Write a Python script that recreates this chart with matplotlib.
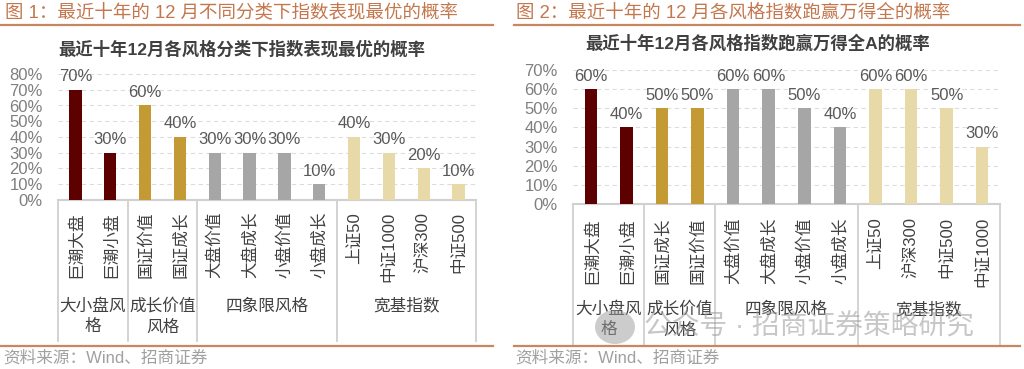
import matplotlib
matplotlib.use("Agg")
import matplotlib.pyplot as plt
from matplotlib.lines import Line2D
from matplotlib.patches import Ellipse
from matplotlib.transforms import blended_transform_factory

plt.rcParams['font.family'] = ['Liberation Sans', 'Noto Sans CJK SC']

# ---- data ----
left_cats = ['巨潮大盘', '巨潮小盘', '国证价值', '国证成长', '大盘价值', '大盘成长',
             '小盘价值', '小盘成长', '上证50', '中证1000', '沪深300', '中证500']
left_vals = [70, 30, 60, 40, 30, 30, 30, 10, 40, 30, 20, 10]

right_cats = ['巨潮大盘', '巨潮小盘', '国证成长', '国证价值', '大盘价值', '大盘成长',
              '小盘价值', '小盘成长', '上证50', '沪深300', '中证500', '中证1000']
right_vals = [60, 40, 50, 50, 60, 60, 50, 40, 60, 60, 50, 30]

groups = ['大小盘风\n格', '成长价值\n风格', '四象限风格', '宽基指数']
group_sizes = [2, 2, 4, 4]

left_header = '图 1：最近十年的 12 月不同分类下指数表现最优的概率'
right_header = '图 2：最近十年的 12 月各风格指数跑赢万得全的概率'
left_title = '最近十年12月各风格分类下指数表现最优的概率'
right_title = '最近十年12月各风格指数跑赢万得全A的概率'
source = '资料来源：Wind、招商证券'

group_colors = ['#5c0000', '#c49a35', '#a6a6a6', '#e8d9a8']
hdr_color = '#c4764c'

W, H = 1024, 369
fig = plt.figure(figsize=(W / 100, H / 100), dpi=100)


def fx(px):
    return px / W


def fy(py):
    return 1 - py / H


def panel(box, ymax, cats, vals, cat_top, grp_top, box_bottom):
    x0, y0, x1, y1 = box
    ax = fig.add_axes([fx(x0), fy(y0), fx(x1) - fx(x0), fy(y1) - fy(y0)])
    colors = []
    for c, n in zip(group_colors, group_sizes):
        colors += [c] * n
    xs = list(range(len(cats)))
    bars = ax.bar(xs, vals, width=0.35, color=colors, zorder=3)
    ax.bar_label(bars, labels=[f'{v}%' for v in vals], padding=4,
                 fontsize=12, color='#595959')
    ax.set_xlim(-0.5, len(cats) - 0.5)
    ax.set_ylim(0, ymax)
    ax.set_yticks(range(0, ymax + 1, 10))
    ax.set_yticklabels([f'{t}%' for t in range(0, ymax + 1, 10)])
    ax.tick_params(axis='y', length=0, pad=11, labelsize=12, labelcolor='#7f7f7f')
    ax.set_xticks([])
    for s in ['left', 'right', 'top']:
        ax.spines[s].set_visible(False)
    ax.spines['bottom'].set_color('#d0d0d0')
    ax.spines['bottom'].set_linewidth(1.5)
    ax.yaxis.grid(True, linestyle=(0, (4, 3)), color='#dcdcdc', linewidth=0.8)
    ax.set_axisbelow(True)

    tr = blended_transform_factory(ax.transData, fig.transFigure)
    for i, c in enumerate(cats):
        ax.text(i, fy(cat_top), c, transform=tr, rotation=90, ha='center',
                va='top', fontsize=12, color='#404040')
    edges = [-0.5]
    for n in group_sizes:
        edges.append(edges[-1] + n)
    for e in edges:
        ax.plot([e, e], [fy(y0), fy(box_bottom)], transform=tr, color='#d0d0d0',
                lw=1.3, clip_on=False)
    for g, a, b in zip(groups, edges[:-1], edges[1:]):
        ax.text((a + b) / 2, fy(grp_top), g, transform=tr, ha='center', va='top',
                fontsize=12, color='#404040', linespacing=1.45)
    return ax


panel((58, 200, 476, 74), 80, left_cats, left_vals, 212, 298, 341)
panel((573, 204, 1000, 70), 70, right_cats, right_vals, 217, 301, 345)

# headers and footers
fig.text(fx(5), fy(13), left_header, fontsize=13.3, color=hdr_color, va='center')
fig.text(fx(516), fy(13), right_header, fontsize=13.3, color=hdr_color, va='center')
for xa, xb in [(0, 493), (514, 1020)]:
    fig.add_artist(Line2D([fx(xa), fx(xb)], [fy(25), fy(25)], color='#c8875f', lw=1.6))
    fig.add_artist(Line2D([fx(xa), fx(xb)], [fy(346), fy(346)], color='#c8875f', lw=1.6))

fig.text(fx(242), fy(49), left_title, ha='center', va='center', fontsize=12.5,
         weight='bold', color='#404040')
fig.text(fx(758), fy(43), right_title, ha='center', va='center', fontsize=12.5,
         weight='bold', color='#404040')

fig.text(fx(3), fy(358), source, fontsize=12, color='#a0a0a0', va='center')
fig.text(fx(515), fy(358), source, fontsize=12, color='#a0a0a0', va='center')

# watermark (present in the reference picture)
fig.add_artist(Ellipse((fx(615), fy(327)), 40 / W, 34 / H, transform=fig.transFigure,
                       color='#9a9a9a', alpha=0.5, lw=0))
fig.text(fx(644), fy(327), '公众号 · 招商证券策略研究', fontsize=20, color='#9a9a9a',
         alpha=0.55, va='center')

fig.savefig('out.png', dpi=100)
